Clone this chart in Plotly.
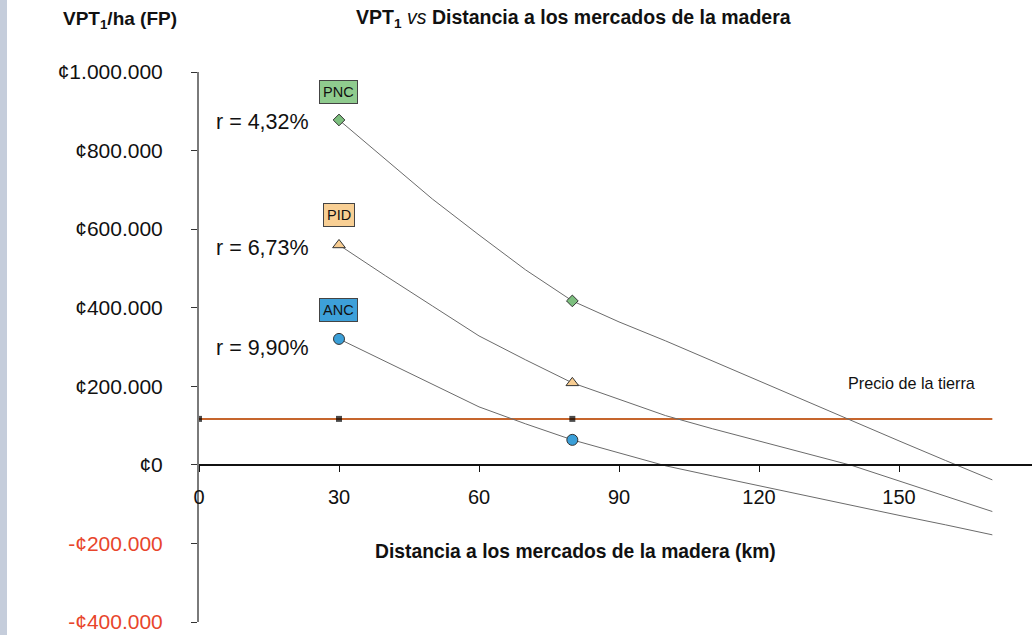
import plotly.graph_objects as go

# ---------------- data ----------------
distancia = [30, 40, 50, 60, 70, 80, 90, 100, 110, 120, 130, 140, 150, 160, 170]
vpt_pnc = [877900, 776100, 676800, 585200, 496200, 417300, 363900, 315500,
           264600, 212000, 162000, 111000, 61000, 11000, -38200]
vpt_pid = [559800, 481000, 404600, 328200, 267200, 208700, 167000, 125300,
           92000, 60800, 29600, -1900, -40900, -79800, -118800]
vpt_anc = [320600, 262600, 204800, 147600, 104300, 63600, 30500, -2500,
           -28000, -53400, -78900, -104300, -128500, -152700, -178100]
marker_dist = [30, 80]
precio_x = [0, 30, 80, 170]
precio_tierra = [117000, 117000, 117000, 117000]
series_names = ["PNC", "PID", "ANC"]
tasas = ["r = 4,32%", "r = 6,73%", "r = 9,90%"]
y_tickvals = [1000000, 800000, 600000, 400000, 200000, 0, -200000, -400000]
y_ticktext = ["¢1.000.000", "¢800.000", "¢600.000", "¢400.000", "¢200.000", "¢0",
              "-¢200.000", "-¢400.000"]
x_tickvals = [0, 30, 60, 90, 120, 150]

# ---------------- geometry ----------------
W_FIG, H_FIG = 1032, 635
L, T, R, B = 199, 72, 0, 13
PW, PH = W_FIG - L - R, H_FIG - T - B


def px(x):
    return (x - L) / PW


def py(y):
    return 1 - (y - T) / PH


FONT = "Liberation Sans, Arial, Helvetica, sans-serif"
LINE_COL = "#6b6b6b"
NEG_COL = "#e8452b"

fig = go.Figure()

# Precio de la tierra line
fig.add_trace(go.Scatter(
    x=precio_x, y=precio_tierra, mode="lines+markers",
    line=dict(color="#c6652d", width=2),
    marker=dict(symbol="square", color="black", size=[6, 6, 6, 0],
                line=dict(width=0)),
    hoverinfo="skip"))

styles = [
    dict(symbol="diamond", color="#7cbf7e", size=9),
    dict(symbol="triangle-up", color="#f8cd92", size=11),
    dict(symbol="circle", color="#3a9fd8", size=11),
]
for vals, st in zip([vpt_pnc, vpt_pid, vpt_anc], styles):
    fig.add_trace(go.Scatter(
        x=distancia, y=vals, mode="lines",
        line=dict(color=LINE_COL, width=1), hoverinfo="skip"))
    fig.add_trace(go.Scatter(
        x=marker_dist, y=[vals[distancia.index(d)] for d in marker_dist],
        mode="markers",
        marker=dict(symbol=st["symbol"], color=st["color"], size=st["size"],
                    line=dict(color="#333333", width=1)),
        hoverinfo="skip"))

ticktext = [f'<span style="color:{NEG_COL}">{t}</span>' if v < 0 else t
            for v, t in zip(y_tickvals, y_ticktext)]

fig.update_layout(
    width=W_FIG, height=H_FIG,
    margin=dict(l=L, r=R, t=T, b=B),
    paper_bgcolor="white", plot_bgcolor="white",
    showlegend=False,
    font=dict(family=FONT, color="#111111"),
    xaxis=dict(range=[0, 178.5], tickvals=x_tickvals, showgrid=False, zeroline=False,
               showline=True, linecolor="#111111", linewidth=1.5,
               ticks="outside", ticklen=6, tickcolor="#111111", tickwidth=1,
               ticklabelstandoff=8,
               anchor="free", position=400000 / 1400000,
               tickfont=dict(size=20, color="#111111")),
    yaxis=dict(range=[-400000, 1000000], tickvals=y_tickvals, ticktext=ticktext,
               showgrid=False, zeroline=False,
               showline=True, linecolor="#7a7a7a", linewidth=2,
               ticks="outside", ticklen=6, tickcolor="#333333", tickwidth=1,
               ticklabelstandoff=24,
               tickfont=dict(size=21, color="#111111")),
)


def note(x, y, text, size, **kw):
    d = dict(x=px(x), y=py(y), xref="paper", yref="paper", showarrow=False,
             xanchor="center", yanchor="middle", text=text,
             font=dict(size=size, color="#111111"))
    d.update(kw)
    return d


ann = [
    note(120, 20, "<b>VPT<sub>1</sub>/ha (FP)</b>", 19),
    note(573, 18, "<b>VPT<sub>1</sub></b> <i>vs</i> <b>Distancia a los mercados de la madera</b>", 19.5),
    note(575, 551, "<b>Distancia a los mercados de la madera (km)</b>", 19.3),
    note(911, 383, "Precio de la tierra", 16.2),
]
for t, yy in zip(tasas, [122, 248, 348]):
    ann.append(note(311, yy, t, 21.5, xanchor="right"))
for name, (cx, cy), bg in zip(series_names, [(338, 92), (339, 215), (338, 310)],
                              ["#8fcb8e", "#f8cf94", "#3da0d9"]):
    ann.append(note(cx, cy, name, 14.5, bgcolor=bg, bordercolor="#444444",
                    borderwidth=1, borderpad=3))
fig.update_layout(annotations=ann)

# left gray strip
fig.add_shape(type="rect", xref="paper", yref="paper",
              x0=px(0), x1=px(7), y0=py(H_FIG), y1=py(0),
              fillcolor="#c5cddb", line=dict(width=0), layer="below")

fig.write_html("out.html", config={"displayModeBar": False},
               post_script="document.body.style.margin='0';"
                           "document.documentElement.style.overflow='hidden';")
